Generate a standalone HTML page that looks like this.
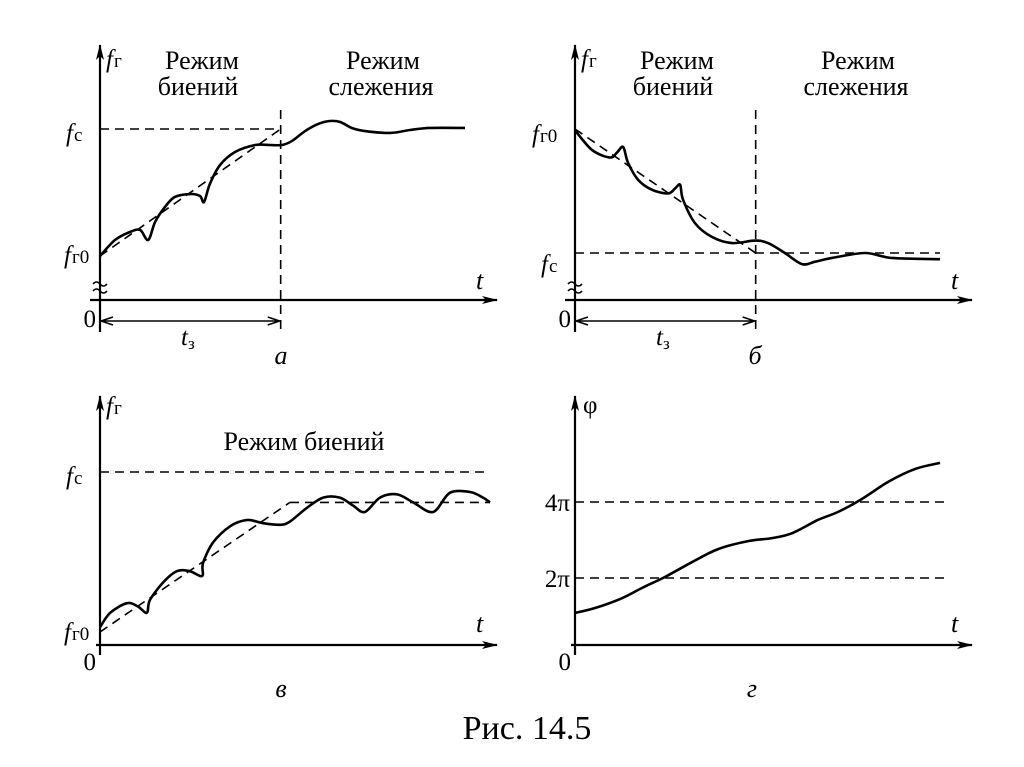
<!DOCTYPE html>
<html><head><meta charset="utf-8"><style>
html,body{margin:0;padding:0;background:#fff;}
svg{display:block;}
text{font-family:"Liberation Serif",serif;fill:#000;}
</style></head><body>
<svg id="fig" width="1024" height="767" viewBox="0 0 1024 767" xmlns="http://www.w3.org/2000/svg">
<defs>
<marker id="arr" markerWidth="16" markerHeight="10" refX="15" refY="5" orient="auto" markerUnits="userSpaceOnUse">
<path d="M0,1 L16,5 L0,9 L4,5 Z" fill="#000"/></marker>
</defs>
<g id="layer"></g>
<text x="527" y="739" font-size="34" text-anchor="middle">Рис. 14.5</text>
</svg>
<script>
// ---------- data ----------
const aT = [0,4.1,8.2,11,13.2,15.1,17.8,20.5,24.7,27.4,28.5,30.1,32.9,37,42.5,46.6,49.9,52.6,56.2,59.7,63,65.8,69,72.6,79.5,84.9,90.4,100];
const aF = [0,12.6,18.9,20.5,12.6,26.8,38.6,46.5,48.8,47.2,42.5,56.7,71.7,81.9,87.4,87.4,87.4,90.6,98.4,103.9,106.3,105.5,100.8,98.4,96.9,99.2,100.8,100.8];
const bT = [0,4.7,9.6,11.5,13.2,14.5,17.3,21.1,25.5,27.4,28.8,29.6,32.9,37.5,43,49.3,52.9,57.5,62.2,65.8,70.4,79.5,86.8,100];
const bF = [99,83,77,81,85.5,73,59,51,48,52,55,43,24,13,8,10,8,0,-9,-7,-4,0,-4,-5];
const cT = [0,2.6,6.9,9.7,12,12.8,16.2,19.7,23,26.2,26.4,29,33.3,37.7,41.8,46.2,48.7,53,57.2,61.5,64.9,67.9,71.8,76.2,80.3,85.4,89.7,94.9,98.2,100];
const cF = [3,12,18,16,12,20,31,38,38,35,43,56,66,70,68,67,69,77.5,84,84,79,75,84,86,81,75,87,87.5,84,81];
const dT = [0,5.5,12.9,18.4,24.7,32.1,39.2,47.4,54,59.5,66.6,72.1,78.6,85.8,93.2,100];
const dPhi = [1.08,1.21,1.47,1.74,2.03,2.42,2.76,2.97,3.05,3.18,3.53,3.74,4.08,4.53,4.87,5.03];
const phiTicks = [2,4];
const phiTickLabels = ["2π","4π"];
const tZ = 49.5;
const cLevel = 81;
const cRampEnd = 48.7;

const NS="http://www.w3.org/2000/svg";
const layer=document.getElementById('layer');
function mk(tag,attrs,parent){const e=document.createElementNS(NS,tag);for(const k in attrs)e.setAttribute(k,attrs[k]);(parent||layer).appendChild(e);return e;}
function smooth(pts){
  let d="M"+pts[0][0]+","+pts[0][1];
  for(let i=0;i<pts.length-1;i++){
    const p0=pts[Math.max(0,i-1)],p1=pts[i],p2=pts[i+1],p3=pts[Math.min(pts.length-1,i+2)];
    const k=0.16;
    d+=" C"+(p1[0]+(p2[0]-p0[0])*k)+","+(p1[1]+(p2[1]-p0[1])*k)+" "+(p2[0]-(p3[0]-p1[0])*k)+","+(p2[1]-(p3[1]-p1[1])*k)+" "+p2[0]+","+p2[1];
  }
  return d;
}
const DASH="9,6";
function txt(x,y,s,size,name,extra){const t=mk('text',Object.assign({x:x,y:y,'font-size':size},extra||{}));t.textContent=s;


return t;}
function fLabel(x,y,sub,name){
  const t=mk('text',{x:x,y:y,'font-size':25});
  
  
  const a=mk('tspan',{'font-style':'italic'},t);a.textContent='f';
  const b=mk('tspan',{'font-size':19,dx:1},t);b.textContent=sub;
}
function axes(ox,oy,top,right,left,name){
  const y=mk('line',{x1:ox,y1:oy+(left?32:10),x2:ox,y2:top,stroke:'#000','stroke-width':2.2,'marker-end':'url(#arr)'});
  
  
  const x=mk('line',{x1:ox-(left?10:4),y1:oy,x2:right,y2:oy,stroke:'#000','stroke-width':2.2,'marker-end':'url(#arr)'});
  
  
}
function dline(x1,y1,x2,y2,name){const l=mk('line',{x1:x1,y1:y1,x2:x2,y2:y2,stroke:'#000','stroke-width':1.6,'stroke-dasharray':DASH});

}
function curve(T,F,xs,ys,name){const pts=T.map((t,i)=>[xs(t),ys(F[i])]);
const p=mk('path',{d:smooth(pts),fill:'none',stroke:'#000','stroke-width':2.6,'stroke-linejoin':'round'});

}
function squiggle(x,y){const p=mk('path',{d:`M${x-7},${y-3} q3.5,-4 7,0 q3.5,4 7,0 M${x-7},${y+4} q3.5,-4 7,0 q3.5,4 7,0`,fill:'none',stroke:'#000','stroke-width':1.6});

}
function span(x1,x2,y,name){
  const p=mk('path',{d:`M${x1},${y} L${x2},${y} M${x1+13},${y-4} L${x1+1},${y} L${x1+13},${y+4} M${x2-13},${y-4} L${x2-1},${y} L${x2-13},${y+4}`,fill:'none',stroke:'#000','stroke-width':1.5});
  
  
}
function tzLabel(x,name){
 const tz=mk('text',{x:x,y:345,'font-size':25});  
 const s1=mk('tspan',{'font-style':'italic'},tz); s1.textContent='t'; const s2=mk('tspan',{'font-size':17,dy:4},tz); s2.textContent='з';
}

// ---------- panel а ----------
{const xa=t=>100+t*3.65, ya=f=>256-f*1.27;
 axes(100,300,45,497,true,'panel-a'); squiggle(100,287);
 dline(xa(0),ya(100),xa(tZ),ya(100),'fc-level-a');
 dline(xa(tZ),110,xa(tZ),332,'lock-in-marker-a');
 dline(xa(0),ya(0),xa(tZ),ya(100),'ramp-a');
 curve(aT,aF,xa,ya,'frequency-curve-a');
 span(xa(0),xa(tZ),321,'tz-span-a');
 fLabel(106,67,'г','y-label-a'); fLabel(66,141,'с','fc-label-a'); fLabel(64,263,'г0','fr0-label-a');
 txt(96,327,'0',25,'origin-a',{'text-anchor':'end'}); txt(476,289,'t',26,'t-label-a',{'font-style':'italic'});
 tzLabel(181,'tz-label-a');
 txt(202,69,'Режим',26,'beat-mode-label-a',{'text-anchor':'middle'}); txt(198,95,'биений',26,'beat-mode-label-a2',{'text-anchor':'middle'});
 txt(383,69,'Режим',26,'track-mode-label-a',{'text-anchor':'middle'}); txt(381,95,'слежения',26,'track-mode-label-a2',{'text-anchor':'middle'});
 txt(281,364,'а',26,'panel-letter-a',{'font-style':'italic','text-anchor':'middle'});
}
// ---------- panel б ----------
{const xb=t=>575+t*3.65, yb=f=>253-f*1.24;
 axes(575,300,45,972,true,'panel-b'); squiggle(575,287);
 dline(xb(0),yb(0),xb(100),yb(0),'fc-level-b');
 dline(xb(tZ),110,xb(tZ),332,'lock-in-marker-b');
 dline(xb(0),yb(100),xb(tZ),yb(0),'ramp-b');
 curve(bT,bF,xb,yb,'frequency-curve-b');
 span(xb(0),xb(tZ),321,'tz-span-b');
 fLabel(581,67,'г','y-label-b'); fLabel(532,142,'г0','fr0-label-b'); fLabel(541,272,'с','fc-label-b');
 txt(571,327,'0',25,'origin-b',{'text-anchor':'end'}); txt(951,289,'t',26,'t-label-b',{'font-style':'italic'});
 tzLabel(656,'tz-label-b');
 txt(677,69,'Режим',26,'beat-mode-label-b',{'text-anchor':'middle'}); txt(673,95,'биений',26,'beat-mode-label-b2',{'text-anchor':'middle'});
 txt(858,69,'Режим',26,'track-mode-label-b',{'text-anchor':'middle'}); txt(856,95,'слежения',26,'track-mode-label-b2',{'text-anchor':'middle'});
 txt(755,364,'б',26,'panel-letter-b',{'font-style':'italic','text-anchor':'middle'});
}
// ---------- panel в ----------
{const xc=t=>100+t*3.9, yc=f=>632-f*1.6;
 axes(100,645,396,497,false,'panel-c');
 dline(xc(0),yc(100),xc(100),yc(100),'fc-level-c');
 dline(xc(0),yc(0),xc(cRampEnd),yc(cLevel),'ramp-c');
 dline(xc(cRampEnd),yc(cLevel),xc(100),yc(cLevel),'beat-average-c');
 curve(cT,cF,xc,yc,'frequency-curve-c');
 fLabel(106,414,'г','y-label-c'); fLabel(66,484,'с','fc-label-c'); fLabel(64,640,'г0','fr0-label-c');
 txt(96,670,'0',25,'origin-c',{'text-anchor':'end'}); txt(476,632,'t',26,'t-label-c',{'font-style':'italic'});
 txt(304,450,'Режим биений',26,'beat-mode-label-c',{'text-anchor':'middle'});
 txt(281,697,'в',26,'panel-letter-c',{'font-style':'italic','text-anchor':'middle'});
}
// ---------- panel г ----------
{const xd=t=>575+t*3.65, yd=p=>578-(p-2)*38;
 axes(575,645,396,972,false,'panel-d');
 phiTicks.forEach((p,i)=>{dline(575,yd(p),947,yd(p),'phase-level-'+phiTickLabels[i]);
   txt(570,yd(p)+9,phiTickLabels[i],25,'phase-tick-label',{'text-anchor':'end'});});
 curve(dT,dPhi,xd,yd,'phase-curve-d');
 txt(583,413,'φ',25,'y-label-d'); txt(571,670,'0',25,'origin-d',{'text-anchor':'end'}); txt(951,632,'t',26,'t-label-d',{'font-style':'italic'});
 txt(752,697,'г',26,'panel-letter-d',{'font-style':'italic','text-anchor':'middle'});
}
</script>
</body></html>
